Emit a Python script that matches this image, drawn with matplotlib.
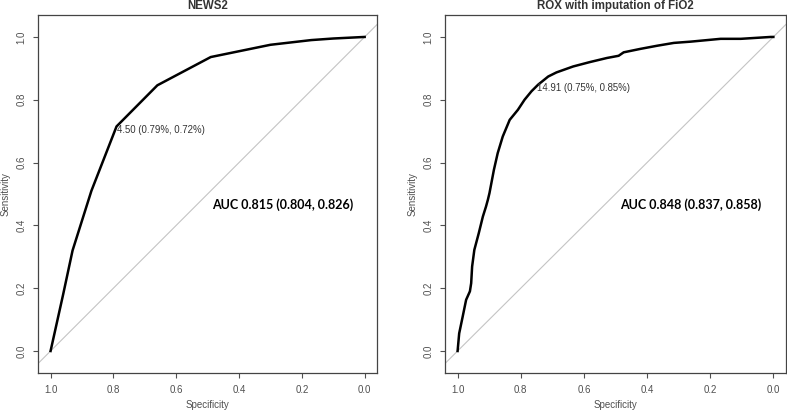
import matplotlib.pyplot as plt

plt.rcParams['font.family'] = ['Liberation Sans', 'DejaVu Sans']

# NEWS2 ROC curve (specificity, sensitivity)
news2_spec = [1.0, 0.96, 0.93, 0.87, 0.79, 0.66, 0.49, 0.30, 0.17, 0.10, 0.0]
news2_sens = [0.0, 0.18, 0.32, 0.51, 0.715, 0.846, 0.936, 0.975, 0.99, 0.995, 1.0]

# ROX with imputation of FiO2
rox_spec = [1.0, 0.995, 0.984, 0.973, 0.961, 0.957, 0.954, 0.947, 0.933, 0.920,
            0.910, 0.904, 0.899, 0.885, 0.873, 0.857, 0.835, 0.809, 0.788, 0.766,
            0.745, 0.713, 0.687, 0.634, 0.581, 0.527, 0.490, 0.474, 0.421, 0.368,
            0.315, 0.262, 0.167, 0.103, 0.008, 0.0]
rox_sens = [0.0, 0.056, 0.109, 0.163, 0.19, 0.216, 0.269, 0.322, 0.375, 0.428,
            0.46, 0.482, 0.503, 0.577, 0.630, 0.683, 0.736, 0.768, 0.80, 0.827,
            0.848, 0.874, 0.887, 0.906, 0.920, 0.933, 0.940, 0.951, 0.962, 0.972,
            0.981, 0.985, 0.994, 0.994, 1.0, 1.0]

panels = [
    {'title': 'NEWS2', 'spec': news2_spec, 'sens': news2_sens,
     'cut': (0.79, 0.715), 'cut_label': '4.50 (0.79%, 0.72%)',
     'auc': 'AUC 0.815 (0.804, 0.826)'},
    {'title': 'ROX with imputation of FiO2', 'spec': rox_spec, 'sens': rox_sens,
     'cut': (0.75, 0.848), 'cut_label': '14.91 (0.75%, 0.85%)',
     'auc': 'AUC 0.848 (0.837, 0.858)'},
]
ticks = [1.0, 0.8, 0.6, 0.4, 0.2, 0.0]

fig = plt.figure(figsize=(7.87, 4.12), dpi=100)
positions = [[0.0483, 0.0947, 0.431, 0.869], [0.5654, 0.0947, 0.4333, 0.869]]
grey = '#505050'

for pos, p in zip(positions, panels):
    ax = fig.add_axes(pos)
    ax.axline((1, 0), (0, 1), color='#c4c4c4', lw=0.8, zorder=1)
    ax.plot(p['spec'], p['sens'], color='black', lw=1.8, zorder=3)
    ax.set_xlim(1.04, -0.04)
    ax.set_ylim(-0.07, 1.07)
    ax.set_xticks(ticks)
    ax.set_yticks(ticks)
    ax.set_xticklabels([f'{t:.1f}' for t in ticks])
    ax.set_yticklabels([f'{t:.1f}' for t in ticks], rotation=90, va='center')
    ax.tick_params(labelsize=7, colors=grey, length=3.5, width=0.8, pad=5)
    for s in ax.spines.values():
        s.set_color('#444444')
        s.set_linewidth(0.9)
    ax.set_xlabel('Specificity', fontsize=7, color=grey, labelpad=4)
    ax.set_ylabel('Sensitivity', fontsize=7, color=grey, labelpad=4)
    ax.set_title(p['title'], fontsize=8.3, fontweight='bold', color='#333333', pad=4)
    ax.text(p['cut'][0], p['cut'][1] - 0.012, p['cut_label'], fontsize=6.9,
            color='#333333', ha='left', va='center', zorder=4)
    ax.text(0.487, 0.465, p['auc'], fontsize=9.0, fontweight='bold',
            family='Lato', color='black', ha='left', va='center')

fig.savefig('out.png', dpi=100)
